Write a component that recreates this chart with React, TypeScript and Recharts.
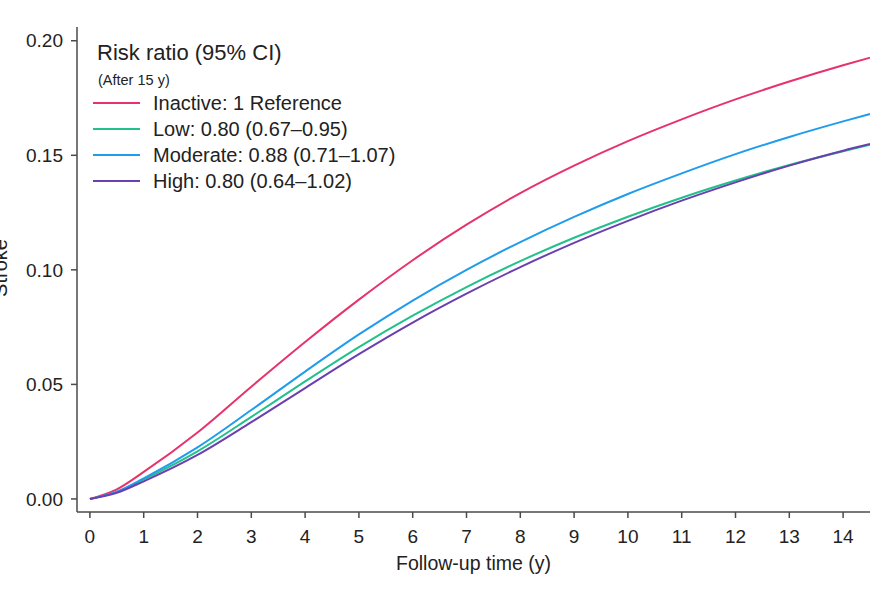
import { LineChart, Line, XAxis, YAxis } from 'recharts'

// follow-up years and cumulative stroke incidence per activity group
const years = [0, 0.5, 1, 2, 3, 4, 5, 6, 7, 8, 9, 10, 11, 12, 13, 14, 14.5]
const inactive = [0, 0.0042, 0.0118, 0.029, 0.049, 0.0685, 0.087, 0.1042, 0.1197, 0.1335, 0.1455, 0.1562, 0.1657, 0.1744, 0.1822, 0.1893, 0.1926]
const low = [0, 0.003, 0.0085, 0.0208, 0.0358, 0.0513, 0.0663, 0.08, 0.0925, 0.1038, 0.114, 0.1232, 0.1315, 0.139, 0.1458, 0.1518, 0.1546]
const moderate = [0, 0.0032, 0.009, 0.0225, 0.0388, 0.0556, 0.0718, 0.0866, 0.1, 0.1121, 0.1231, 0.1331, 0.1421, 0.1505, 0.158, 0.1648, 0.168]
const high = [0, 0.0027, 0.0077, 0.0192, 0.0335, 0.0484, 0.0632, 0.077, 0.0896, 0.1012, 0.1118, 0.1214, 0.1302, 0.1382, 0.1455, 0.152, 0.1549]

const xTicks = [0, 1, 2, 3, 4, 5, 6, 7, 8, 9, 10, 11, 12, 13, 14]
const yTicks = [0, 0.05, 0.1, 0.15, 0.2]

const series = [
  { key: 'inactive', label: 'Inactive: 1 Reference', color: '#e6336b' },
  { key: 'low', label: 'Low: 0.80 (0.67\u20130.95)', color: '#22c08a' },
  { key: 'moderate', label: 'Moderate: 0.88 (0.71\u20131.07)', color: '#209cec' },
  { key: 'high', label: 'High: 0.80 (0.64\u20131.02)', color: '#6a3fb0' },
]

const data = years.map((t, i) => ({
  t,
  inactive: inactive[i],
  low: low[i],
  moderate: moderate[i],
  high: high[i],
}))

const FONT = '"Liberation Sans", Arial, sans-serif'
const AXIS_COLOR = '#4a4a4a'
const TICK_STYLE = { fontSize: 19, fill: '#222', fontFamily: FONT }

// legend drawn as an overlay so it doesn't eat into the plot area
function RiskLegend() {
  return (
    <div style={{ position: 'absolute', left: 93, top: 39, fontFamily: FONT, color: '#222' }}>
      <div style={{ height: 28, lineHeight: '28px', fontSize: 22, paddingLeft: 4, whiteSpace: 'nowrap' }}>Risk ratio (95% CI)</div>
      <div style={{ marginTop: 3, height: 20, lineHeight: '20px', fontSize: 14.5, paddingLeft: 5, whiteSpace: 'nowrap' }}>(After 15 y)</div>
      {series.map((s) => (
        <div key={s.key} style={{ display: 'flex', alignItems: 'center', height: 26 }}>
          <div style={{ width: 47, height: 2, background: s.color, marginRight: 13 }} />
          <span style={{ fontSize: 20, lineHeight: '26px', whiteSpace: 'nowrap' }}>{s.label}</span>
        </div>
      ))}
    </div>
  )
}

export default function App() {
  return (
    <div style={{ position: 'absolute', left: 0, top: 0, width: 870, height: 600, background: '#fff' }}>
      <LineChart width={870} height={600} data={data} margin={{ top: 27, right: 0, left: 0, bottom: 28 }}>
        <XAxis
          dataKey="t"
          type="number"
          domain={[-0.24, 14.5]}
          ticks={xTicks}
          height={60}
          tick={TICK_STYLE}
          tickSize={6}
          tickMargin={12}
          stroke={AXIS_COLOR}
          strokeWidth={1.5}
          label={{ value: 'Follow-up time (y)', position: 'insideBottom', offset: 2, fontSize: 19.5, fill: '#222', fontFamily: FONT }}
        />
        <YAxis
          type="number"
          domain={[-0.0057, 0.206]}
          ticks={yTicks}
          width={77}
          tick={TICK_STYLE}
          tickSize={6}
          tickMargin={8}
          stroke={AXIS_COLOR}
          strokeWidth={1.5}
          tickFormatter={(v: number) => v.toFixed(2)}
          label={{
            content: () => (
              <text x={7} y={268} transform="rotate(-90, 7, 268)" textAnchor="middle" fontSize={20} fill="#222" fontFamily={FONT}>
                Stroke
              </text>
            ),
          }}
        />
        {series.map((s) => (
          <Line
            key={s.key}
            type="monotone"
            dataKey={s.key}
            stroke={s.color}
            strokeWidth={2}
            dot={false}
            activeDot={false}
            isAnimationActive={false}
          />
        ))}
      </LineChart>
      <RiskLegend />
    </div>
  )
}
